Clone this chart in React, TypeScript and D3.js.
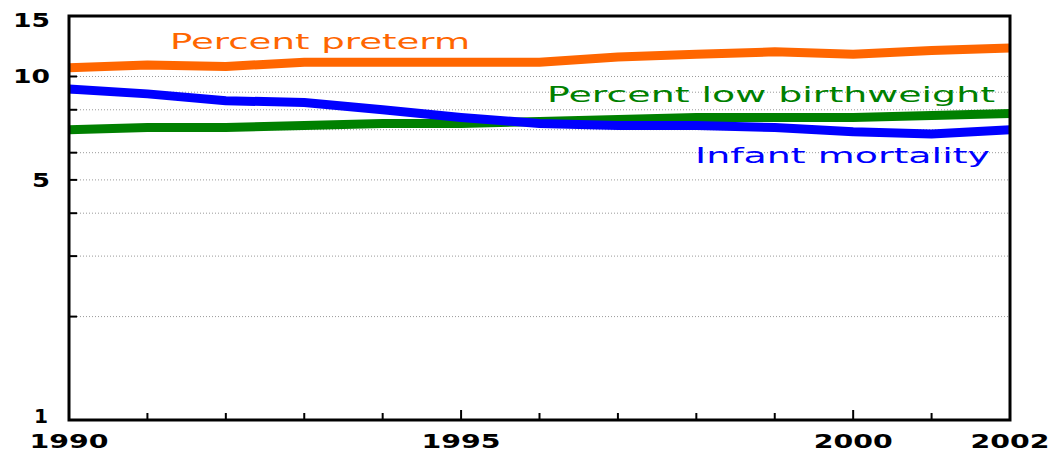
import React from "react";
import * as d3 from "d3";

const years = [1990, 1991, 1992, 1993, 1994, 1995, 1996, 1997, 1998, 1999, 2000, 2001, 2002];
const preterm = [10.6, 10.8, 10.7, 11.0, 11.0, 11.0, 11.0, 11.4, 11.6, 11.8, 11.6, 11.9, 12.1];
const lowBirthweight = [7.0, 7.1, 7.1, 7.2, 7.3, 7.3, 7.4, 7.5, 7.6, 7.6, 7.6, 7.7, 7.8];
const infantMortality = [9.2, 8.9, 8.5, 8.4, 8.0, 7.6, 7.3, 7.2, 7.2, 7.1, 6.9, 6.8, 7.0];

const gridValues = [2, 3, 4, 5, 6, 7, 8, 9, 10];
const yTickLabels = [1, 5, 10, 15];
const xTickLabels = [1990, 1995, 2000, 2002];
const majorXTicks = [1995, 2000];

const seriesNames = ["Percent preterm", "Percent low birthweight", "Infant mortality"];

export default function App() {
  const x = d3.scaleLinear().domain([1990, 2002]).range([69, 1010]);
  const y = d3.scaleLog().domain([1, 15]).range([420, 16]);
  const line = d3
    .line<number>()
    .x((_, i) => x(years[i]))
    .y((d) => y(d));

  const font = "DejaVu Sans, Verdana, sans-serif";

  const yLabelPos: Record<number, { x: number; w: number }> = {
    1: { x: 34, w: 14 },
    5: { x: 32, w: 18 },
    10: { x: 13, w: 37 },
    15: { x: 13, w: 37 },
  };

  const xLabelW = 79;

  const series = [
    { data: lowBirthweight, color: "#008000", label: seriesNames[1], lx: 547, ly: 102, lw: 448 },
    { data: infantMortality, color: "#0000FF", label: seriesNames[2], lx: 695, ly: 163, lw: 295 },
    { data: preterm, color: "#FF6600", label: seriesNames[0], lx: 170, ly: 49, lw: 300 },
  ];

  return (
    <svg
      width={1056}
      height={455}
      style={{ position: "absolute", left: 0, top: 0, background: "#fff" }}
    >
      {/* grid lines */}
      {gridValues.map((v) => (
        <line
          key={"g" + v}
          x1={77}
          x2={1008}
          y1={y(v)}
          y2={y(v)}
          stroke="#999"
          strokeWidth={1}
          strokeDasharray="1,2"
        />
      ))}
      {/* y ticks */}
      {gridValues.map((v) => (
        <line key={"yt" + v} x1={69} x2={77} y1={y(v)} y2={y(v)} stroke="#000" strokeWidth={2} />
      ))}
      {/* x ticks */}
      {years.slice(1, -1).map((yr) => (
        <line
          key={"xt" + yr}
          x1={x(yr)}
          x2={x(yr)}
          y1={420}
          y2={majorXTicks.includes(yr) ? 410 : 413}
          stroke="#000"
          strokeWidth={2}
        />
      ))}
      {/* series lines */}
      {series.map((s) => (
        <path
          key={s.label}
          d={line(s.data) || ""}
          fill="none"
          stroke={s.color}
          strokeWidth={9}
          strokeLinejoin="round"
        />
      ))}
      {/* frame */}
      <rect x={69} y={16} width={941} height={404} fill="none" stroke="#000" strokeWidth={3} />
      {/* y labels */}
      {yTickLabels.map((v) => (
        <text
          key={"yl" + v}
          x={yLabelPos[v].x}
          y={y(v) + 7 - (v === 15 ? -4 : v === 1 ? 4 : 0)}
          fontFamily={font}
          fontWeight="bold"
          fontSize={20}
          textLength={yLabelPos[v].w}
          lengthAdjust="spacingAndGlyphs"
          fill="#000"
        >
          {v}
        </text>
      ))}
      {/* x labels */}
      {xTickLabels.map((yr) => (
        <text
          key={"xl" + yr}
          x={x(yr) - xLabelW / 2}
          y={448}
          fontFamily={font}
          fontWeight="bold"
          fontSize={20}
          textLength={xLabelW}
          lengthAdjust="spacingAndGlyphs"
          fill="#000"
        >
          {yr}
        </text>
      ))}
      {/* series labels */}
      {series.map((s) => (
        <text
          key={"sl" + s.label}
          x={s.lx}
          y={s.ly}
          fontFamily={font}
          fontSize={22}
          textLength={s.lw}
          lengthAdjust="spacingAndGlyphs"
          fill={s.color}
        >
          {s.label}
        </text>
      ))}
    </svg>
  );
}
